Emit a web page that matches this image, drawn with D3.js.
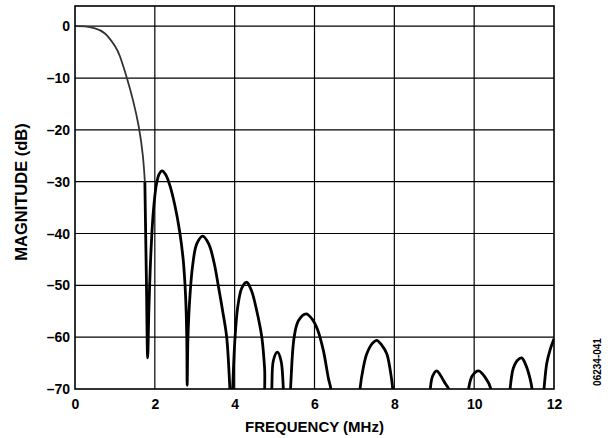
<!DOCTYPE html>
<html>
<head>
<meta charset="utf-8">
<script src="https://cdn.jsdelivr.net/npm/d3@7"></script>
<style>
  html, body { margin: 0; padding: 0; background: #fff; }
  svg { display: block; }
  text { font-family: "Liberation Sans", Arial, sans-serif; font-weight: bold; fill: #000; }
</style>
</head>
<body>
<svg id="chart" width="608" height="438"></svg>
<script>
// ---- data ----
const xTicks = [0, 2, 4, 6, 8, 10, 12];
const yTicks = [0, -10, -20, -30, -40, -50, -60, -70];
const xTickLabels = ["0", "2", "4", "6", "8", "10", "12"];
const yTickLabels = ["0", "–10", "–20", "–30", "–40", "–50", "–60", "–70"];
const xTitle = "FREQUENCY (MHz)";
const yTitle = "MAGNITUDE (dB)";
const figId = "06234-041";

// main lobe (thin grey trace)
const mainFreq = [0, 0.25, 0.5, 0.75, 1.0, 1.13, 1.3, 1.46, 1.6, 1.7, 1.75];
const mainMag  = [0, -0.05, -0.4, -1.4, -3.8, -5.9, -10, -14.5, -19.5, -25, -30];

// stopband (thick black trace)
const stopFreq = [1.75, 1.79, 1.82, 1.85, 1.90, 1.96, 2.04, 2.11, 2.18, 2.27, 2.38, 2.50, 2.62, 2.71, 2.77, 2.80, 2.81,
  2.83, 2.88, 2.95, 3.05, 3.20, 3.35, 3.48, 3.60, 3.70, 3.80, 3.88, 3.91,
  3.93, 3.95, 4.01, 4.08, 4.18, 4.30, 4.42, 4.55, 4.68, 4.75, 4.80,
  4.90, 4.93, 4.97, 5.07, 5.16, 5.22, 5.25,
  5.37, 5.40, 5.49, 5.60, 5.79, 5.95, 6.08, 6.22, 6.35, 6.41, 6.45,
  7.10, 7.14, 7.22, 7.31, 7.45, 7.56, 7.68, 7.81, 7.90, 7.96, 8.00,
  8.86, 8.90, 8.96, 9.06, 9.15, 9.28, 9.36, 9.40,
  9.82, 9.86, 9.95, 10.11, 10.28, 10.42, 10.46,
  10.86, 10.90, 10.98, 11.08, 11.19, 11.30, 11.40, 11.45, 11.50,
  11.70, 11.75, 11.82, 11.90, 12.0];
const stopMag = [-30, -49.6, -64, -55, -44, -36, -30.5, -28.5, -27.9, -28.6, -30.8, -34.5, -39.5, -45, -52, -60, -69.3,
  -60, -52, -46, -42, -40.5, -42, -45.5, -50.5, -55, -60, -70, -75,
  -75, -70, -60, -54, -50.5, -49.4, -51, -54.8, -60, -66, -75,
  -75, -70, -64.5, -62.9, -64.5, -70, -75,
  -75, -70, -60, -56.8, -55.5, -56.6, -58.6, -62.5, -68, -70, -75,
  -75, -70, -66, -63.2, -61.2, -60.6, -61.5, -63.2, -66.5, -70, -75,
  -75, -70, -67.5, -66.5, -67.3, -69, -70, -75,
  -75, -70, -67.5, -66.5, -67.8, -70, -75,
  -75, -70, -66, -64.5, -64, -65.5, -68, -70, -75,
  -75, -70, -65, -62.5, -60.3];

// ---- layout ----
const W = 608, H = 438;
const m = { left: 75, top: 6, right: 54, bottom: 49 };
const iw = W - m.left - m.right, ih = H - m.top - m.bottom;

const svg = d3.select("#chart");
const g = svg.append("g").attr("transform", `translate(${m.left},${m.top})`);

const x = d3.scaleLinear().domain([0, 12]).range([0, iw]);
const y = d3.scaleLinear().domain([-70, 3.9]).range([ih, 0]);

// grid
g.append("g").selectAll("line").data(xTicks.slice(1, -1)).join("line")
  .attr("x1", d => x(d)).attr("x2", d => x(d)).attr("y1", 0).attr("y2", ih)
  .attr("stroke", "#000").attr("stroke-width", 1.2);
g.append("g").selectAll("line").data(yTicks.slice(0, -1)).join("line")
  .attr("x1", 0).attr("x2", iw).attr("y1", d => y(d)).attr("y2", d => y(d))
  .attr("stroke", "#000").attr("stroke-width", 1.2);

// clip
svg.append("defs").append("clipPath").attr("id", "clip")
  .append("rect").attr("x", 0).attr("y", 0).attr("width", iw).attr("height", ih);

const line = d3.line().x(d => x(d[0])).y(d => y(d[1])).curve(d3.curveCatmullRom.alpha(0.5));
const smooth = d3.line().x(d => x(d[0])).y(d => y(d[1])).curve(d3.curveNatural);
const mainData = mainFreq.map((f, i) => [f, mainMag[i]]);
const stopData = stopFreq.map((f, i) => [f, stopMag[i]]);

const traces = g.append("g").attr("clip-path", "url(#clip)");
traces.append("path").datum(stopData).attr("d", line)
  .attr("fill", "none").attr("stroke", "#000").attr("stroke-width", 2.8).attr("stroke-linejoin", "round");
traces.append("path").datum(mainData).attr("d", smooth)
  .attr("fill", "none").attr("stroke", "#333").attr("stroke-width", 1.8);

// frame
g.append("rect").attr("x", 0).attr("y", 0).attr("width", iw).attr("height", ih)
  .attr("fill", "none").attr("stroke", "#000").attr("stroke-width", 1.6);

// axes labels via d3 axes (no lines)
const xAxis = d3.axisBottom(x).tickValues(xTicks).tickFormat((d, i) => xTickLabels[i]).tickSize(0).tickPadding(10);
const xa = g.append("g").attr("transform", `translate(0,${ih})`).call(xAxis);
xa.select(".domain").remove();
xa.selectAll("text").attr("font-size", 14).attr("font-family", "Liberation Sans, Arial, sans-serif").attr("font-weight", "bold");

const yAxis = d3.axisLeft(y).tickValues(yTicks).tickFormat((d, i) => yTickLabels[i]).tickSize(0).tickPadding(5);
const ya = g.append("g").call(yAxis);
ya.select(".domain").remove();
ya.selectAll("text").attr("font-size", 14).attr("font-family", "Liberation Sans, Arial, sans-serif").attr("font-weight", "bold");

// titles
svg.append("text").attr("x", m.left + iw / 2).attr("y", 432).attr("text-anchor", "middle")
  .attr("font-size", 15).text(xTitle);
svg.append("text").attr("transform", `translate(27,192) rotate(-90)`).attr("text-anchor", "middle")
  .attr("font-size", 16.5).text(yTitle);
svg.append("text").attr("transform", `translate(601,362) rotate(-90)`).attr("text-anchor", "middle")
  .attr("font-size", 10).attr("font-weight", "normal").text(figId);
</script>
</body>
</html>
